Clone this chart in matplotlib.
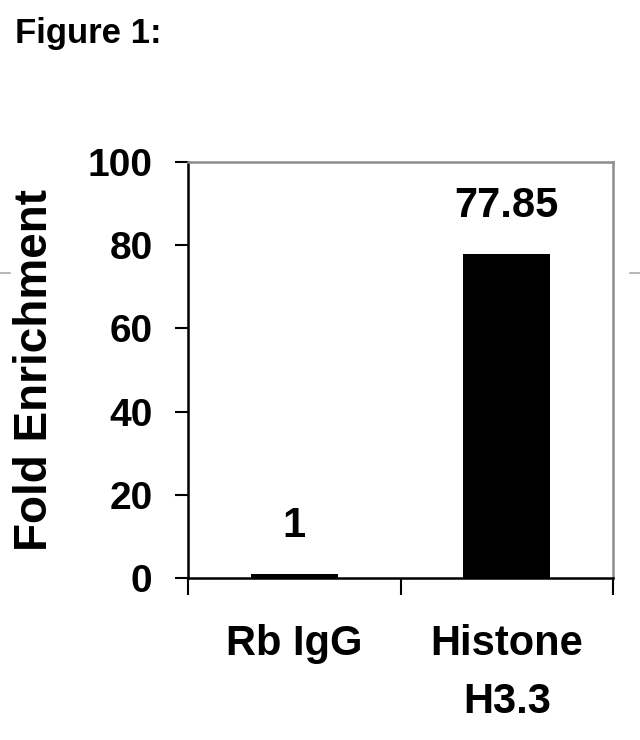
import matplotlib
matplotlib.use("Agg")
import matplotlib.pyplot as plt
from matplotlib.lines import Line2D

categories = ["Rb IgG", "Histone\nH3.3"]
values = [1, 77.85]
value_labels = ["1", "77.85"]
yticks = [0, 20, 40, 60, 80, 100]

plt.rcParams['font.family'] = ['Liberation Sans', 'DejaVu Sans']
plt.rcParams['font.weight'] = 'bold'

fig = plt.figure(figsize=(6.4, 7.4), dpi=100)
ax = fig.add_axes([188/640, 1-578/740, (613-188)/640, (578-162)/740])

x = list(range(len(categories)))
bars = ax.bar(x, values, width=0.41, color='black', zorder=3)

for xi, v, lab in zip(x, values, value_labels):
    ax.annotate(lab, (xi, v), xytext=(0, 20), textcoords='offset points',
                ha='center', va='bottom', fontsize=30, fontweight='bold')

ax.set_xlim(-0.5, len(categories) - 0.5)
ax.set_ylim(0, 100)
ax.set_yticks(yticks)
ax.set_yticklabels([str(t) for t in yticks], fontsize=28, fontweight='bold')
ax.tick_params(axis='y', direction='out', length=9.5, width=1.5, pad=16, colors='black')

# category ticks at boundaries, labels at centers
ax.set_xticks([i - 0.5 for i in range(len(categories) + 1)])
ax.set_xticklabels([])
ax.set_xticks(x, minor=True)
ax.set_xticklabels(categories, minor=True, fontsize=30, fontweight='bold', linespacing=1.6)
ax.tick_params(axis='x', which='minor', length=0, pad=33)
ax.tick_params(axis='x', which='major', direction='out', length=12, width=1.5)

ax.set_ylabel("Fold Enrichment", fontsize=33, fontweight='bold', labelpad=22)

for s in ['left', 'bottom']:
    ax.spines[s].set_color('black')
    ax.spines[s].set_linewidth(1.8)
for s in ['top', 'right']:
    ax.spines[s].set_color('#8c8c8c')
    ax.spines[s].set_linewidth(1.8)

fig.text(15/640, 1-43/740, "Figure 1:", fontsize=25, fontweight='bold', ha='left', va='baseline')

# small gray marks at the image edges
fig.add_artist(Line2D([0, 10/640], [1-273/740, 1-273/740], color='#aaaaaa', lw=1.2))
fig.add_artist(Line2D([630/640, 1], [1-273/740, 1-273/740], color='#aaaaaa', lw=1.2))

fig.savefig("out.png", dpi=100)
